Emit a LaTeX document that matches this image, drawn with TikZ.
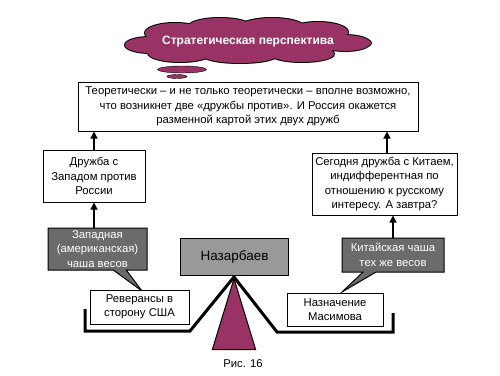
\documentclass[tikz,border=0pt]{standalone}
\usepackage{fontspec}
\setmainfont{Liberation Sans}
\usetikzlibrary{arrows.meta,shapes.symbols,shapes.geometric,shapes.callouts}
\definecolor{plum}{HTML}{993366}
\definecolor{dgray}{HTML}{6B6B6B}
\definecolor{mgray}{HTML}{999999}
\newcommand{\cloudparts}[1]{%
  \path[#1] (248,42) ellipse [x radius=100, y radius=16];
  \path[#1] (150,45) ellipse [x radius=25, y radius=8];
  \path[#1] (345,43) ellipse [x radius=25, y radius=8];
  \path[#1] (136,46) ellipse [x radius=10, y radius=4];
  \path[#1] (361,43) ellipse [x radius=10, y radius=4];
  \path[#1] (175,33) ellipse [x radius=30, y radius=10];
  \path[#1] (220,27) ellipse [x radius=32, y radius=9];
  \path[#1] (272,27) ellipse [x radius=32, y radius=9];
  \path[#1] (318,32) ellipse [x radius=30, y radius=10];
  \path[#1] (180,53) ellipse [x radius=32, y radius=9];
  \path[#1] (240,56) ellipse [x radius=36, y radius=7];
  \path[#1] (302,54) ellipse [x radius=32, y radius=8];
}
\begin{document}
\begin{tikzpicture}[x=1pt,y=-1pt,
  txt/.style={font=\fontsize{11.3}{14.5}\selectfont, align=center},
  wbox/.style={txt, draw=black, fill=white, line width=1pt, inner sep=0pt},
  cbox/.style={rectangle callout, txt, draw=black, fill=dgray, text=white, line width=1pt, inner sep=0pt, callout pointer width=13pt},
  arr/.style={line width=1.2pt, -{Triangle[length=7pt,width=7pt]}},
  beam/.style={line width=3pt, line join=miter}]
\useasboundingbox (0,0) rectangle (500,375);
% cloud
\cloudparts{draw=black, line width=2pt}
\cloudparts{fill=plum}
\coordinate (cloud) at (248,42);
\node[text=white, font=\fontsize{12}{14}\selectfont\bfseries] (ctext) at (cloud) {Стратегическая перспектива};
\node[ellipse, draw=black, fill=plum, minimum width=49pt, minimum height=7pt, inner sep=0pt] (b1) at (182,69.5) {};
\node[ellipse, draw=black, fill=plum, minimum width=20pt, minimum height=4pt, inner sep=0pt] (b2) at (177,76.5) {};
% top box
\node[wbox, minimum width=340pt, minimum height=49pt] (top) at (248,106.5) {Теоретически -- и не только теоретически -- вполне возможно,\\ что возникнет две «дружбы против». И Россия окажется\\ разменной картой этих двух дружб};
% second row
\node[wbox, minimum width=102pt, minimum height=52pt] (fw) at (94,176) {Дружба с\\ Западом против\\ России};
\node[wbox, minimum width=145pt, minimum height=62pt] (fc) at (384.5,184) {Сегодня дружба с Китаем,\\ индифферентная по\\ отношению к русскому\\ интересу. А завтра?};
% beam
\coordinate (pivot) at (234,277);
\coordinate (lt) at (85,309);
\coordinate (lb) at (85,331);
\coordinate (lc) at (190,331);
\coordinate (rc) at (277,332);
\coordinate (rb) at (393,332);
\coordinate (rt) at (393,313);
\draw[beam] (lt) -- (lb) -- (lc) -- (pivot) -- (rc) -- (rb) -- (rt);
\node[isosceles triangle, shape border rotate=90, isosceles triangle apex angle=34, draw=black, fill=plum, line width=1pt, minimum height=71pt, inner sep=0pt, anchor=apex] (tri) at (pivot) {};
% gray boxes
\node[draw=black, fill=mgray, line width=1pt, minimum width=108pt, minimum height=37pt, inner sep=0pt, font=\fontsize{13.5}{16}\selectfont] (naz) at (234.5,256.5) {Назарбаев};
\node[cbox, minimum width=99pt, minimum height=42pt, callout absolute pointer={(142,291)}] (west) at (97.5,249) {Западная\\ (американская)\\ чаша весов};
\node[cbox, minimum width=102pt, minimum height=34pt, callout absolute pointer={(342,292)}] (east) at (393,255) {Китайская чаша\\ тех же весов};
% pans
\node[wbox, minimum width=99pt, minimum height=34pt] (rev) at (139.5,307) {Реверансы в\\ сторону США};
\node[wbox, minimum width=96pt, minimum height=33pt] (mas) at (335,309.5) {Назначение\\ Масимова};
% arrows
\draw[arr] (fw.south |- west.north) -- (fw.south);
\draw[arr] (fw.north) -- (fw.north |- top.south);
\draw[arr] (east.north) -- (east.north |- fc.south);
\draw[arr] (fc.north -| 387,0) -- (top.south -| 387,0);
\node[txt] (cap) at (243,364) {Рис. 16};
\end{tikzpicture}
\end{document}
